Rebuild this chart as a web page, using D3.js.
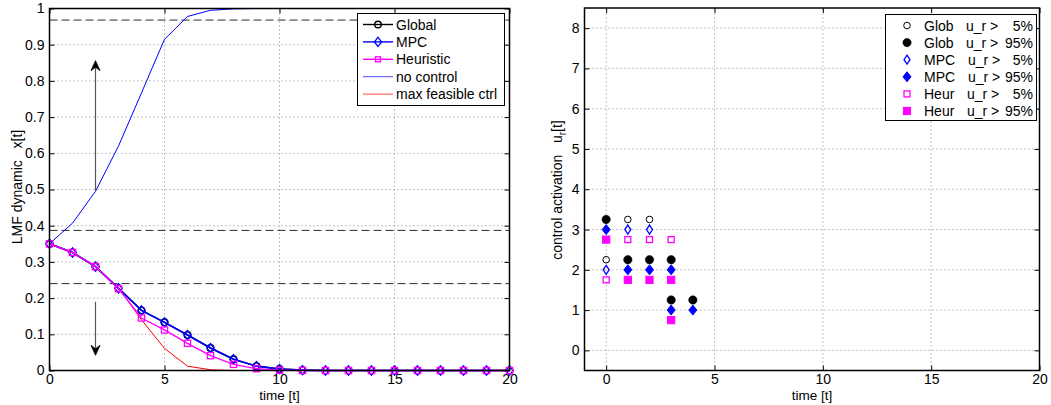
<!DOCTYPE html>
<html>
<head>
<meta charset="utf-8">
<script src="https://cdn.jsdelivr.net/npm/d3@7"></script>
<style>
  html, body { margin: 0; padding: 0; background: #fff; }
  svg { display: block; font-family: "Liberation Sans", Arial, Helvetica, sans-serif; }
  svg text { white-space: pre; }
  .tick text { font-size: 14px; fill: #000; }
</style>
</head>
<body>
<svg id="chart" width="1051" height="405"></svg>
<script>
// ---- state trajectories x[t] ----
const timeSteps = d3.range(0, 21);
const globalX  = [0.350, 0.326, 0.287, 0.227, 0.166, 0.133, 0.098, 0.062, 0.031, 0.012, 0.004, 0.001, 0, 0, 0, 0, 0, 0, 0, 0, 0];
const mpcX     = [0.350, 0.326, 0.287, 0.227, 0.166, 0.133, 0.098, 0.062, 0.031, 0.012, 0.004, 0.001, 0, 0, 0, 0, 0, 0, 0, 0, 0];
const heurX    = [0.350, 0.326, 0.287, 0.226, 0.145, 0.112, 0.075, 0.041, 0.017, 0.005, 0.001, 0, 0, 0, 0, 0, 0, 0, 0, 0, 0];
const noCtrlX  = [0.350, 0.407, 0.495, 0.620, 0.767, 0.915, 0.978, 0.995, 0.999, 1, 1, 1, 1, 1, 1, 1, 1, 1, 1, 1, 1];
const maxFeasX = [0.350, 0.326, 0.286, 0.228, 0.140, 0.061, 0.012, 0.002, 0, 0, 0, 0, 0, 0, 0, 0, 0, 0, 0, 0, 0];
const thresholds = [0.968, 0.387, 0.24];
const arrowUp   = [2, 0.497, 0.856];   // t, from, to
const arrowDown = [2, 0.190, 0.042];

// ---- active controls u_r[t] : [t, r] ----
const globWeak   = [[0, 2], [1, 3], [2, 3]];
const globStrong = [[0, 3], [1, 2], [2, 2], [3, 2], [3, 1], [4, 1]];
const mpcWeak    = [[0, 2], [1, 3], [2, 3]];
const mpcStrong  = [[0, 3], [1, 2], [2, 2], [3, 2], [3, 1], [4, 1]];
const heurWeak   = [[0, 2], [1, 3], [2, 3], [3, 3]];
const heurStrong = [[0, 3], [1, 2], [2, 2], [3, 2], [3, 1]];

// ---- ticks & labels ----
const leftXTicks  = [0, 5, 10, 15, 20];
const leftYTicks  = d3.range(0, 11).map(i => i / 10);
const rightXTicks = [0, 5, 10, 15, 20];
const rightYTicks = d3.range(0, 9);
const leftLegend  = ["Global", "MPC", "Heuristic", "no control", "max feasible ctrl"];
const rightLegendNames = ["Glob", "Glob", "MPC", "MPC", "Heur", "Heur"];
const rightLegendLevel = ["5%", "95%", "5%", "95%", "5%", "95%"];

const FS = 14;
const svg = d3.select("#chart");

const xL = d3.scaleLinear([0, 20], [49.5, 509.5]);
const yL = d3.scaleLinear([0, 1], [370.5, 8.5]);
const xR = d3.scaleLinear([-1, 20], [584.5, 1039.5]);
const yR = d3.scaleLinear([-0.5, 8.5], [370.5, 8.0]);

function frame(x, y, xt, yt, fmtY) {
  const [x0, x1] = x.range(), [y0, y1] = y.range();
  const g = svg.append("g");
  // dotted grid
  g.selectAll(".gx").data(xt).join("line")
    .attr("x1", d => x(d)).attr("x2", d => x(d)).attr("y1", y0).attr("y2", y1)
    .attr("stroke", "#8a8a8a").attr("stroke-width", 1).attr("stroke-dasharray", "1,3");
  g.selectAll(".gy").data(yt).join("line")
    .attr("x1", x0).attr("x2", x1).attr("y1", d => y(d)).attr("y2", d => y(d))
    .attr("stroke", "#8a8a8a").attr("stroke-width", 1).attr("stroke-dasharray", "1,3");
  const axB = g.append("g").attr("transform", `translate(0,${y0})`)
    .call(d3.axisBottom(x).tickValues(xt).tickSize(-5).tickPadding(3.5).tickFormat(d3.format("d")));
  const axL = g.append("g").attr("transform", `translate(${x0},0)`)
    .call(d3.axisLeft(y).tickValues(yt).tickSize(-5).tickPadding(5).tickFormat(fmtY));
  const axT = g.append("g").attr("transform", `translate(0,${y1})`)
    .call(d3.axisTop(x).tickValues(xt).tickSize(-5).tickFormat(""));
  const axR = g.append("g").attr("transform", `translate(${x1},0)`)
    .call(d3.axisRight(y).tickValues(yt).tickSize(-5).tickFormat(""));
  [axB, axL, axT, axR].forEach(a => {
    a.select(".domain").remove();
    a.selectAll(".tick line").attr("stroke", "#000");
  });
  return g;
}
function box(x, y) {
  const [x0, x1] = x.range(), [y0, y1] = y.range();
  svg.append("rect").attr("x", x0).attr("y", y1).attr("width", x1 - x0).attr("height", y0 - y1)
    .attr("fill", "none").attr("stroke", "#000").attr("stroke-width", 1.5);
}

// ================= left panel =================
frame(xL, yL, leftXTicks, leftYTicks, d => d === 0 ? "0" : d === 1 ? "1" : d3.format(".1f")(d));

const gL = svg.append("g");
gL.selectAll(".thr").data(thresholds).join("line")
  .attr("x1", xL.range()[0]).attr("x2", xL.range()[1])
  .attr("y1", d => yL(d)).attr("y2", d => yL(d))
  .attr("stroke", "#2a2a2a").attr("stroke-width", 1).attr("stroke-dasharray", "8,4");

const lineL = d3.line().x((d, i) => xL(timeSteps[i])).y(d => yL(d));

function circleSym(g, cx, cy, color) {
  g.append("circle").attr("cx", cx).attr("cy", cy).attr("r", 3.3)
    .attr("fill", "none").attr("stroke", color).attr("stroke-width", 1.4);
}
function diamondSym(g, cx, cy, color, fill, h = 4.6, w = 3.6) {
  g.append("path").attr("d", `M${cx},${cy - h}L${cx + w},${cy}L${cx},${cy + h}L${cx - w},${cy}Z`)
    .attr("fill", fill ? color : "none").attr("stroke", color).attr("stroke-width", fill ? 1 : 1.3);
}
function squareSym(g, cx, cy, color, fill, s = 3.1) {
  g.append("rect").attr("x", cx - s).attr("y", cy - s).attr("width", 2 * s).attr("height", 2 * s)
    .attr("fill", fill ? color : "none").attr("stroke", color).attr("stroke-width", fill ? 1 : 1.3);
}

gL.append("path").attr("d", lineL(noCtrlX)).attr("fill", "none").attr("stroke", "#0000ff").attr("stroke-width", 1);
gL.append("path").attr("d", lineL(maxFeasX)).attr("fill", "none").attr("stroke", "#ff0000").attr("stroke-width", 1);

gL.append("path").attr("d", lineL(globalX)).attr("fill", "none").attr("stroke", "#000").attr("stroke-width", 1.6);
globalX.forEach((v, i) => circleSym(gL, xL(timeSteps[i]), yL(v), "#000"));
gL.append("path").attr("d", lineL(mpcX)).attr("fill", "none").attr("stroke", "#0000ff").attr("stroke-width", 1.6);
mpcX.forEach((v, i) => diamondSym(gL, xL(timeSteps[i]), yL(v), "#0000ff", false));
gL.append("path").attr("d", lineL(heurX)).attr("fill", "none").attr("stroke", "#ff00ff").attr("stroke-width", 1.4);
heurX.forEach((v, i) => squareSym(gL, xL(timeSteps[i]), yL(v), "#ff00ff", false));

// trend arrows
function arrow(spec) {
  const [t, a, b] = spec;
  const x = xL(t), y0 = yL(a), y1 = yL(b);
  const dir = y1 < y0 ? 1 : -1;   // 1 = pointing up
  gL.append("line").attr("x1", x).attr("x2", x).attr("y1", y0).attr("y2", y1 + dir * 4)
    .attr("stroke", "#555").attr("stroke-width", 1.2);
  gL.append("path")
    .attr("d", `M${x},${y1}L${x + 4.5},${y1 + dir * 10}L${x},${y1 + dir * 6.5}L${x - 4.5},${y1 + dir * 10}Z`)
    .attr("fill", "#000").attr("stroke", "#000").attr("stroke-width", 0.8);
}
arrow(arrowUp);
arrow(arrowDown);

box(xL, yL);

// legend (left)
const lg = svg.append("g");
lg.append("rect").attr("x", 357.5).attr("y", 13.5).attr("width", 147).attr("height", 92)
  .attr("fill", "#fff").attr("stroke", "#000").attr("stroke-width", 1);
const legColors = ["#000", "#0000ff", "#ff00ff", "#0000ff", "#ff0000"];
leftLegend.forEach((name, i) => {
  const y = 24.5 + i * 17.4;
  lg.append("line").attr("x1", 363).attr("x2", 393).attr("y1", y).attr("y2", y)
    .attr("stroke", legColors[i]).attr("stroke-width", i < 3 ? 1.4 : 1).attr("stroke-opacity", i < 3 ? 1 : 0.7);
  if (i === 0) circleSym(lg, 378, y, "#000");
  if (i === 1) diamondSym(lg, 378, y, "#0000ff", false);
  if (i === 2) squareSym(lg, 378, y, "#ff00ff", false, 2.5);
  lg.append("text").attr("x", 396).attr("y", y + 5).attr("font-size", FS).text(name);
});

// axis titles (left)
svg.append("text").attr("x", xL(10)).attr("y", 400).attr("text-anchor", "middle")
  .attr("font-size", 13.5).text("time [t]");
svg.append("text").attr("transform", `translate(22,187) rotate(-90)`).attr("text-anchor", "middle")
  .attr("font-size", FS).text("LMF dynamic   x[t]");

// ================= right panel =================
frame(xR, yR, rightXTicks, rightYTicks, d3.format("d"));
const gR = svg.append("g");

const rightSeries = [
  { pts: globWeak,   off: 0.25,  kind: "circle",  color: "#000",    fill: false },
  { pts: globStrong, off: 0.25,  kind: "circle",  color: "#000",    fill: true },
  { pts: mpcWeak,    off: 0,     kind: "diamond", color: "#0000ff", fill: false },
  { pts: mpcStrong,  off: 0,     kind: "diamond", color: "#0000ff", fill: true },
  { pts: heurWeak,   off: -0.25, kind: "square",  color: "#ff00ff", fill: false },
  { pts: heurStrong, off: -0.25, kind: "square",  color: "#ff00ff", fill: true }
];
function marker(g, s, cx, cy) {
  if (s.kind === "circle") {
    g.append("circle").attr("cx", cx).attr("cy", cy).attr("r", s.fill ? 4.2 : 3.3)
      .attr("fill", s.fill ? s.color : "none").attr("stroke", s.color).attr("stroke-width", s.fill ? 0.5 : 1);
  } else if (s.kind === "diamond") {
    diamondSym(g, cx, cy, s.color, s.fill, s.fill ? 5 : 4.5, s.fill ? 4 : 3);
  } else {
    squareSym(g, cx, cy, s.color, s.fill, s.fill ? 3.6 : 3);
  }
}
rightSeries.forEach(s => s.pts.forEach(([t, r]) => marker(gR, s, xR(t), yR(r + s.off))));

box(xR, yR);

// legend (right)
const rg = svg.append("g");
rg.append("rect").attr("x", 885.5).attr("y", 14.5).attr("width", 151).attr("height", 106)
  .attr("fill", "#fff").attr("stroke", "#000").attr("stroke-width", 1);
rightSeries.forEach((s, i) => {
  const y = 25.5 + i * 17.1;
  marker(rg, s, 907, y);
  rg.append("text").attr("x", 924).attr("y", y + 5).attr("font-size", FS).text(rightLegendNames[i]);
  rg.append("text").attr("x", i < 2 ? 966 : i < 4 ? 968 : 967).attr("y", y + 5).attr("font-size", FS).text("u_r >");
  rg.append("text").attr("x", 1033).attr("y", y + 5).attr("font-size", FS).attr("text-anchor", "end").text(rightLegendLevel[i]);
});

// axis titles (right)
svg.append("text").attr("x", xR(9.5)).attr("y", 400).attr("text-anchor", "middle")
  .attr("font-size", 13.5).text("time [t]");
const yt = svg.append("text").attr("transform", `translate(562,190) rotate(-90)`).attr("text-anchor", "middle")
  .attr("font-size", FS);
yt.append("tspan").text("control activation   u");
yt.append("tspan").attr("font-size", 10).attr("dy", 4).text("r");
yt.append("tspan").attr("dy", -4).text("[t]");
</script>
</body>
</html>
